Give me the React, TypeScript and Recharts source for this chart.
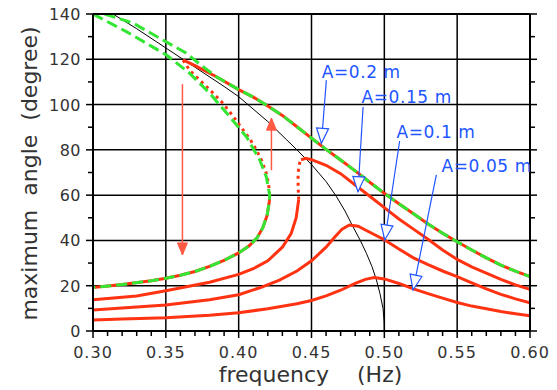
import { LineChart, Line, XAxis, YAxis, CartesianGrid, ReferenceDot, Label } from "recharts";

const FONT = "DejaVu Sans";
const RED = "#ff3311";
const GREEN = "#33e633";
const BLUE = "#2255ff";
const ARROW_RED = "#ff5a44";
const TEXT = "#333";

// axis ticks (major every 0.05 / 20, minor every 0.01 / 10)
const X_TICKS = [
  0.3, 0.31, 0.32, 0.33, 0.34, 0.35, 0.36, 0.37, 0.38, 0.39, 0.4, 0.41, 0.42, 0.43, 0.44, 0.45,
  0.46, 0.47, 0.48, 0.49, 0.5, 0.51, 0.52, 0.53, 0.54, 0.55, 0.56, 0.57, 0.58, 0.59, 0.6,
];
const Y_TICKS = [0, 10, 20, 30, 40, 50, 60, 70, 80, 90, 100, 110, 120, 130, 140];
const X_GRID = [0.35, 0.4, 0.45, 0.5, 0.55];
const Y_GRID = [20, 40, 60, 80, 100, 120];

type Pt = [number, number];

// thin black backbone curve
const BACKBONE: Pt[] = [
  [0.3137, 140], [0.33, 133.5], [0.35, 125], [0.37, 116.5], [0.39, 108], [0.4, 103.5],
  [0.42, 92.5], [0.433, 84.4], [0.44, 80], [0.45, 73.5], [0.46, 66], [0.467, 59.5],
  [0.473, 53], [0.4785, 46], [0.4835, 40], [0.4877, 34.3], [0.4915, 28.5], [0.4946, 22.5],
  [0.497, 16.5], [0.4991, 10], [0.4999, 4], [0.5, 0],
];

const A005: Pt[] = [
  [0.3, 4.9], [0.32, 5.3], [0.35, 5.9], [0.38, 7.0], [0.4, 8.1], [0.42, 9.8], [0.44, 12.0],
  [0.45, 13.5], [0.46, 15.5], [0.47, 18.0], [0.48, 21.0], [0.487, 22.8], [0.493, 23.6],
  [0.5, 23.0], [0.51, 21.0], [0.52, 18.6], [0.53, 16.5], [0.54, 14.5], [0.55, 12.6],
  [0.56, 11.0], [0.57, 9.8], [0.58, 8.6], [0.59, 7.6], [0.6, 6.7],
];

const A010: Pt[] = [
  [0.3, 9.3], [0.32, 10.2], [0.35, 11.5], [0.38, 13.8], [0.4, 16], [0.415, 19.2], [0.428, 22.5],
  [0.44, 26.5], [0.45, 31], [0.46, 37], [0.466, 41.5], [0.471, 45], [0.476, 46.8],
  [0.482, 46.3], [0.49, 43.6], [0.5, 40.3], [0.51, 36.2], [0.52, 32.3], [0.53, 29.3],
  [0.54, 26.5], [0.55, 24], [0.56, 21.3], [0.57, 18.6], [0.58, 16.2], [0.59, 14.2], [0.6, 12.5],
];

const A015_LOWER: Pt[] = [
  [0.3, 13.8], [0.33, 15.5], [0.35, 17.8], [0.38, 21.5], [0.4, 25.0], [0.41, 27.5], [0.42, 31],
  [0.43, 37], [0.436, 43], [0.4395, 50], [0.4412, 58],
];
const A015_JUMP: Pt[] = [[0.4412, 58], [0.4408, 64], [0.4408, 70], [0.4418, 74], [0.4428, 75.6]];
const A015_UPPER: Pt[] = [
  [0.4428, 75.6], [0.446, 76.3], [0.45, 75.7], [0.46, 73.2], [0.47, 69.5], [0.48, 64.5],
  [0.49, 59.5], [0.5, 54.5], [0.51, 49.5], [0.52, 45], [0.53, 40.5], [0.54, 35.8], [0.55, 31.6],
  [0.56, 28.3], [0.57, 25.6], [0.58, 22.8], [0.59, 20.4], [0.6, 18.4],
];

const A02_LOWER: Pt[] = [
  [0.3, 19.2], [0.32, 20.5], [0.34, 22.2], [0.35, 23.3], [0.36, 24.6], [0.37, 26.3], [0.38, 28.5],
  [0.39, 31.2], [0.4, 34.5], [0.407, 37.5], [0.4125, 41], [0.4165, 45.5], [0.4195, 51],
  [0.421, 57], [0.4213, 60],
];
const A02_UNSTABLE: Pt[] = [
  [0.4213, 60], [0.4205, 65], [0.419, 69.6], [0.416, 75], [0.4122, 79.9], [0.408, 84.5],
  [0.403, 88.8], [0.396, 95], [0.3893, 100.5], [0.381, 106], [0.3733, 110.8], [0.3665, 115],
  [0.3618, 119.7],
];
const A02_UPPER: Pt[] = [
  [0.3618, 119.7], [0.37, 117.2], [0.3847, 112.3], [0.4, 106.6], [0.41, 103.3], [0.42, 99.4],
  [0.43, 95.2], [0.44, 90.2], [0.45, 85.2], [0.46, 80.2], [0.47, 75.5], [0.48, 70.7],
  [0.49, 65.7], [0.5, 60.8], [0.51, 56.2], [0.52, 51.8], [0.53, 47.3], [0.54, 43.2],
  [0.55, 39.4], [0.56, 35.8], [0.57, 32.3], [0.58, 29.1], [0.59, 26.4], [0.6, 24.0],
];

// green dashed curves: start segments near the top left
const GREEN_UPPER_START: Pt[] = [
  [0.308, 140], [0.3275, 136], [0.348, 128.5], [0.3641, 122.7], [0.375, 117], [0.3847, 112.3],
];
const GREEN_LOWER_START: Pt[] = [
  [0.3, 140], [0.3229, 132.2], [0.3504, 121.9], [0.3664, 113.8], [0.3801, 105], [0.3939, 94.6],
  [0.4053, 85.8], [0.4145, 75.5], [0.419, 68], [0.4213, 60],
];

// annotation labels and arrows
const LABELS = ["A=0.2 m", "A=0.15 m", "A=0.1 m", "A=0.05 m"];
const LABEL_X = [0.457, 0.4843, 0.5083, 0.5392];
const LABEL_Y = [111.7, 100.7, 85.2, 70.2];
const ARROW_TAIL_X = [0.4602, 0.4854, 0.5105, 0.5357];
const ARROW_TAIL_Y = [110.8, 98.9, 83.9, 68.9];
const ARROW_TIP_X = [0.4568, 0.4819, 0.5003, 0.5197];
const ARROW_TIP_Y = [82.9, 61.5, 40.2, 18.1];

const JUMP_X = [0.3614, 0.4225];
const JUMP_FROM = [109, 71];
const JUMP_TO = [33.6, 94];

const pts = (a: Pt[]) => a.map(([x, y]) => ({ x, y }));

const GREEN_UPPER = [...GREEN_UPPER_START, ...A02_UPPER.filter(([x]) => x >= 0.4)];
const GREEN_LOWER = [...GREEN_LOWER_START, ...A02_LOWER.slice(0, -1).reverse()];

const isMajorX = (v: number) => Math.abs(v * 20 - Math.round(v * 20)) < 1e-6;
const isMajorY = (v: number) => v % 20 === 0;

const BottomTick = ({ x, y, payload }: any) => {
  const major = isMajorX(payload.value);
  return (
    <g>
      <line x1={x} y1={y} x2={x} y2={y + (major ? 7 : 5)} stroke="#000" strokeWidth={1.5} />
      {major && (
        <text x={x} y={y + 27} textAnchor="middle" fontSize={16} letterSpacing={1} fill={TEXT} fontFamily={FONT}>
          {payload.value.toFixed(2)}
        </text>
      )}
    </g>
  );
};

const TopTick = ({ x, y, payload }: any) => {
  const major = isMajorX(payload.value);
  return <line x1={x} y1={y} x2={x} y2={y - (major ? 7 : 5)} stroke="#000" strokeWidth={1.5} />;
};

const LeftTick = ({ x, y, payload }: any) => {
  const major = isMajorY(payload.value);
  return (
    <g>
      <line x1={x} y1={y} x2={x - (major ? 7 : 5)} y2={y} stroke="#000" strokeWidth={1.5} />
      {major && (
        <text x={x - 12} y={y + 6} textAnchor="end" fontSize={16} letterSpacing={0.5} fill={TEXT} fontFamily={FONT}>
          {payload.value}
        </text>
      )}
    </g>
  );
};

const RightTick = ({ x, y, payload }: any) => {
  const major = isMajorY(payload.value);
  return <line x1={x} y1={y} x2={x + (major ? 7 : 5)} y2={y} stroke="#000" strokeWidth={1.5} />;
};

// arrow head drawn at the second point of a two-point line
const arrowHead = (color: string, hollow: boolean) => (props: any) => {
  const { cx, cy, index, points, key } = props;
  if (index !== 1) return <g key={key} />;
  let ang = Math.PI / 2;
  if (points && points.length > 1) {
    ang = Math.atan2(points[1].y - points[0].y, points[1].x - points[0].x);
  }
  const len = hollow ? 15 : 12;
  const half = hollow ? 6 : 5;
  const bx = cx - Math.cos(ang) * len;
  const by = cy - Math.sin(ang) * len;
  const nx = -Math.sin(ang) * half;
  const ny = Math.cos(ang) * half;
  const d = `${cx},${cy} ${bx + nx},${by + ny} ${bx - nx},${by - ny}`;
  return (
    <polygon
      key={key}
      points={d}
      fill={hollow ? "#fff" : color}
      stroke={color}
      strokeWidth={hollow ? 1.2 : 1}
    />
  );
};

const blueHead = arrowHead(BLUE, true);
const redHead = arrowHead(ARROW_RED, false);

export default function App() {
  return (
    <div style={{ position: "absolute", left: 0, top: 0, background: "#fff" }}>
      <LineChart width={557} height={390} margin={{ top: 13, right: 26, bottom: 58, left: 92 }}>
        <CartesianGrid
          verticalValues={X_GRID}
          horizontalValues={Y_GRID}
          stroke="#000"
          strokeWidth={1.5}
          strokeOpacity={1}
        />
        <XAxis
          type="number"
          dataKey="x"
          domain={[0.3, 0.6]}
          allowDataOverflow
          ticks={X_TICKS}
          interval={0}
          height={1}
          tickSize={0}
          tickMargin={0}
          tickLine={false}
          tick={<BottomTick />}
          axisLine={{ stroke: "#000", strokeWidth: 2 }}
        >
          <Label
            content={({ viewBox }: any) => (
              <text
                x={viewBox.x + viewBox.width / 2 - 1}
                y={viewBox.y + 51}
                textAnchor="middle"
                fontSize={22}
                fill={TEXT}
                fontFamily={FONT}
                style={{ whiteSpace: "pre" }}
              >
                {"frequency    (Hz)"}
              </text>
            )}
          />
        </XAxis>
        <XAxis
          xAxisId="top"
          orientation="top"
          type="number"
          domain={[0.3, 0.6]}
          allowDataOverflow
          ticks={X_TICKS}
          interval={0}
          height={1}
          tickSize={0}
          tickMargin={0}
          tickLine={false}
          tick={<TopTick />}
          axisLine={{ stroke: "#000", strokeWidth: 2 }}
        />
        <YAxis
          type="number"
          domain={[0, 140]}
          allowDataOverflow
          ticks={Y_TICKS}
          interval={0}
          width={1}
          tickSize={0}
          tickMargin={0}
          tickLine={false}
          tick={<LeftTick />}
          axisLine={{ stroke: "#000", strokeWidth: 2 }}
        >
          <Label
            content={({ viewBox }: any) => {
              const lx = viewBox.x - 55;
              const ly = viewBox.y + viewBox.height / 2 + 1;
              return (
                <text
                  x={lx}
                  y={ly}
                  transform={`rotate(-90 ${lx} ${ly})`}
                  textAnchor="middle"
                  fontSize={22}
                  fill={TEXT}
                  fontFamily={FONT}
                  style={{ whiteSpace: "pre" }}
                >
                  {"maximum  angle  (degree)"}
                </text>
              );
            }}
          />
        </YAxis>
        <YAxis
          yAxisId="right"
          orientation="right"
          type="number"
          domain={[0, 140]}
          allowDataOverflow
          ticks={Y_TICKS}
          interval={0}
          width={1}
          tickSize={0}
          tickMargin={0}
          tickLine={false}
          tick={<RightTick />}
          axisLine={{ stroke: "#000", strokeWidth: 2 }}
        />

        <Line data={pts(BACKBONE)} dataKey="y" type="linear" stroke="#000" strokeWidth={1} dot={false} isAnimationActive={false} />

        <Line data={pts(A005)} dataKey="y" type="linear" stroke={RED} strokeWidth={3} dot={false} isAnimationActive={false} />
        <Line data={pts(A010)} dataKey="y" type="linear" stroke={RED} strokeWidth={3} dot={false} isAnimationActive={false} />
        <Line data={pts(A015_LOWER)} dataKey="y" type="linear" stroke={RED} strokeWidth={3} dot={false} isAnimationActive={false} />
        <Line data={pts(A015_JUMP)} dataKey="y" type="linear" stroke={RED} strokeWidth={3} strokeDasharray="3 4" dot={false} isAnimationActive={false} />
        <Line data={pts(A015_UPPER)} dataKey="y" type="linear" stroke={RED} strokeWidth={3} dot={false} isAnimationActive={false} />
        <Line data={pts(A02_LOWER)} dataKey="y" type="linear" stroke={RED} strokeWidth={3} dot={false} isAnimationActive={false} />
        <Line data={pts(A02_UNSTABLE)} dataKey="y" type="linear" stroke={RED} strokeWidth={3} strokeDasharray="3 4" dot={false} isAnimationActive={false} />
        <Line data={pts(A02_UPPER)} dataKey="y" type="linear" stroke={RED} strokeWidth={3} dot={false} isAnimationActive={false} />

        <Line data={pts(GREEN_UPPER)} dataKey="y" type="linear" stroke={GREEN} strokeWidth={3} strokeDasharray="11 5" dot={false} isAnimationActive={false} />
        <Line data={pts(GREEN_LOWER)} dataKey="y" type="linear" stroke={GREEN} strokeWidth={3} strokeDasharray="11 5" dot={false} isAnimationActive={false} />

        {JUMP_X.map((x, i) => (
          <Line
            key={`jump-${i}`}
            data={[{ x, y: JUMP_FROM[i] }, { x, y: JUMP_TO[i] }]}
            dataKey="y"
            type="linear"
            stroke={ARROW_RED}
            strokeWidth={1.5}
            dot={redHead}
            isAnimationActive={false}
          />
        ))}

        {LABELS.map((_, i) => (
          <Line
            key={`ann-${i}`}
            data={[{ x: ARROW_TAIL_X[i], y: ARROW_TAIL_Y[i] }, { x: ARROW_TIP_X[i], y: ARROW_TIP_Y[i] }]}
            dataKey="y"
            type="linear"
            stroke={BLUE}
            strokeWidth={1.2}
            dot={blueHead}
            isAnimationActive={false}
          />
        ))}

        {LABELS.map((text, i) => (
          <ReferenceDot
            key={`lab-${i}`}
            x={LABEL_X[i]}
            y={LABEL_Y[i]}
            r={0}
            shape={(p: any) => (
              <text x={p.cx} y={p.cy} fontSize={17} letterSpacing={0.6} fill={BLUE} fontFamily={FONT}>
                {text}
              </text>
            )}
          />
        ))}
      </LineChart>
    </div>
  );
}
